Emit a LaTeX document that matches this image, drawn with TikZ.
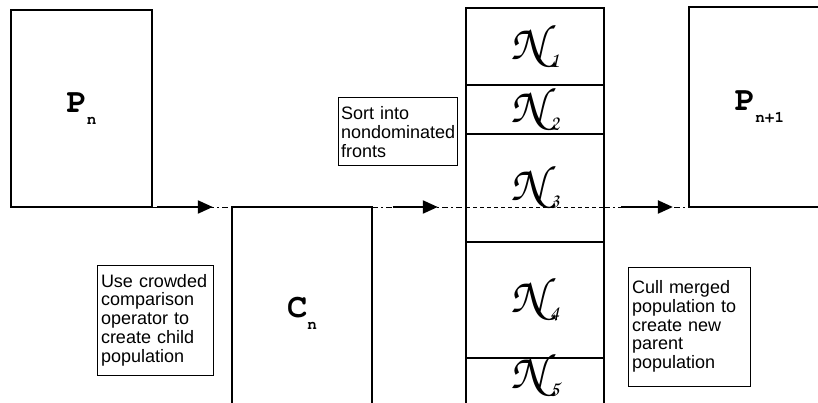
\documentclass[tikz,border=0pt]{standalone}
\usepackage{fontspec}
\setmainfont{Liberation Sans}
\newfontfamily\chorus{texgyrechorus-mediumitalic.otf}
\newfontfamily\cursor{texgyrecursor-bold.otf}
\usetikzlibrary{positioning}
\usetikzlibrary{arrows.meta}
\usetikzlibrary{calc}

\newcommand{\poplbl}[2]{{\cursor\fontsize{34}{34}\selectfont #1}\kern0pt\raisebox{-12pt}{\cursor\fontsize{16}{16}\selectfont #2}}
\newcommand{\frontlbl}[1]{{\chorus\fontsize{50}{50}\selectfont N}\kern4pt\raisebox{-8pt}{\chorus\fontsize{22}{22}\selectfont #1}}

\begin{document}
\begin{tikzpicture}[x=1pt, y=-1pt,
  popbox/.style={draw, line width=1.2pt, inner sep=0pt, outer sep=0pt},
  front/.style={draw, line width=1.2pt, minimum width=138pt, inner sep=0pt, outer sep=0pt},
  notebox/.style={draw, line width=1pt, align=left, inner xsep=4pt, font=\fontsize{18}{18.7}\selectfont},
  flow/.style={line width=0.9pt, dash pattern=on 6pt off 3pt on 2pt off 3pt},
  arr/.style={line width=2.2pt, -{Triangle[length=15pt, width=13pt]}}]
 % keep the picture the size of the scan
 \useasboundingbox (0,0) rectangle (818,403);
 \clip (0,0) rectangle (818,403);

 % populations
 \node[popbox, minimum width=141pt, minimum height=197pt] (Pn) at (81.5,108.5) {\poplbl{P}{n}};
 \node[popbox, minimum width=140pt, minimum height=213pt] (Cn) at (302,313.5) {\poplbl{C}{n}};
 \node[popbox, minimum width=141pt, minimum height=200pt] (Pnext) at (759.5,107) {\poplbl{P}{n+1}};

 % nondominated fronts
 \node[front, minimum height=77pt] (N1) at (535,46.5) {\frontlbl{1}};
 \node[front, minimum height=49pt, below=0pt of N1] (N2) {\frontlbl{2}};
 \node[front, minimum height=108pt, below=0pt of N2] (N3) {\frontlbl{3}};
 \node[front, minimum height=116pt, below=0pt of N3] (N4) {\frontlbl{4}};
 \node[front, minimum height=62pt, below=0pt of N4,
   label={[name=N5lbl, inner sep=0pt, yshift=13pt]center:\frontlbl{5}}] (N5) {};

 % notes
 \node[notebox, text width=108pt, minimum height=110pt] (crowd) at (155,320) {Use crowded\\comparison\\operator to\\create child\\population};
 \node[notebox, inner xsep=3pt, text width=113pt, minimum height=68pt] (sort) at (397.5,132) {Sort into\\nondominated\\fronts};
 \node[notebox, text width=114pt, minimum height=119pt] (cull) at (689,326.5) {Cull merged\\population to\\create new\\parent\\population};

 % flow
 \draw[flow] (Pn.south east) -- (Cn.north west);
 \draw[arr] ($(Pn.south east)!0.06!(Cn.north west)$) -- ($(Pn.south east)!0.76!(Cn.north west)$);
 \coordinate (in3) at (Cn.north east -| N3.west);
 \coordinate (out3) at (Cn.north east -| N3.east);
 \draw[flow] (Cn.north east) -- (in3);
 \draw[arr] ($(Cn.north east)!0.22!(in3)$) -- ($(Cn.north east)!0.70!(in3)$);
 \draw[line width=0.9pt, dash pattern=on 4pt off 3pt] (in3) -- (out3);
 \draw[flow] (out3) -- (Pnext.south west);
 \draw[arr] ($(out3)!0.2!(Pnext.south west)$) -- ($(out3)!0.81!(Pnext.south west)$);
\end{tikzpicture}
\end{document}
